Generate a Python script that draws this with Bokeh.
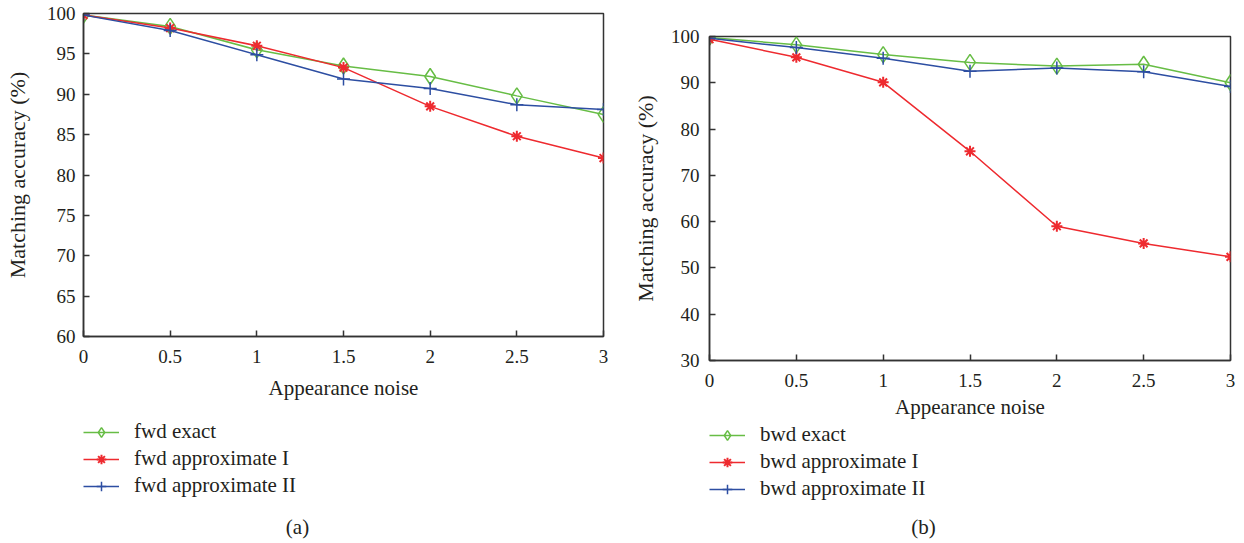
from bokeh.plotting import figure
from bokeh.layouts import row, column
from bokeh.models import Range1d, Legend, LegendItem, Label, FixedTicker
from bokeh.embed import file_html
from bokeh.resources import INLINE

# ---------------- data ----------------
noise = [0, 0.5, 1, 1.5, 2, 2.5, 3]
x_tick_labels = ["0", "0.5", "1", "1.5", "2", "2.5", "3"]

fwd_exact = [99.8, 98.4, 95.5, 93.5, 92.2, 89.8, 87.5]
fwd_approx1 = [99.8, 98.2, 96.0, 93.3, 88.5, 84.8, 82.1]
fwd_approx2 = [99.8, 97.9, 94.9, 91.9, 90.7, 88.7, 88.1]

bwd_exact = [99.8, 98.2, 96.1, 94.4, 93.6, 94.0, 90.0]
bwd_approx1 = [99.4, 95.5, 90.1, 75.2, 59.0, 55.3, 52.4]
bwd_approx2 = [99.6, 97.6, 95.3, 92.5, 93.2, 92.4, 89.2]

fwd_labels = ["fwd exact", "fwd approximate I", "fwd approximate II"]
bwd_labels = ["bwd exact", "bwd approximate I", "bwd approximate II"]

left_yticks = [60, 65, 70, 75, 80, 85, 90, 95, 100]
right_yticks = [30, 40, 50, 60, 70, 80, 90, 100]

FONT = "Liberation Serif"
TXT = "#231f20"
GREEN = "#67bd45"
RED = "#ee2a2f"
BLUE = "#2d4ea2"

STYLES = [
    dict(color=GREEN, marker="diamond", size=16, lw=1.5),
    dict(color=RED, marker="asterisk", size=11, lw=2),
    dict(color=BLUE, marker="cross", size=13, lw=1.5),
]


def add_series(p, xs, ys, st, size=None, visible=True):
    ln = p.line(xs, ys, line_color=st["color"], line_width=1.5, visible=visible)
    sc = p.scatter(xs, ys, marker=st["marker"], size=size or st["size"],
                   fill_color=None, line_color=st["color"],
                   line_width=st["lw"], visible=visible)
    return ln, sc


def make_plot(series, yr, yticks, fw, fh, bl, br, bt, bb,
              ylab_standoff, ytick_standoff, xlab_standoff):
    p = figure(frame_width=fw, frame_height=fh,
               x_range=Range1d(0, 3), y_range=Range1d(*yr),
               output_backend="svg", toolbar_location=None,
               min_border_left=bl, min_border_right=br,
               min_border_top=bt, min_border_bottom=bb)
    p.xgrid.visible = False
    p.ygrid.visible = False
    p.outline_line_color = "#333333"
    p.outline_line_width = 1.5
    p.background_fill_color = "white"
    p.border_fill_color = "white"

    for ax in (p.xaxis[0], p.yaxis[0]):
        ax.major_tick_in = 6
        ax.major_tick_out = 0
        ax.minor_tick_line_color = None
        ax.axis_line_color = "#333333"
        ax.axis_line_width = 1.5
        ax.major_tick_line_color = "#333333"
        ax.major_tick_line_width = 1.5
        ax.major_label_text_font = FONT
        ax.major_label_text_font_size = "19px"
        ax.major_label_text_color = TXT
        ax.axis_label_text_font = FONT
        ax.axis_label_text_font_style = "normal"
        ax.axis_label_text_color = TXT

    p.xaxis.ticker = FixedTicker(ticks=noise)
    p.xaxis.major_label_overrides = {t: s for t, s in zip(noise, x_tick_labels)}
    p.xaxis.major_label_standoff = 13
    p.xaxis.axis_label = "Appearance noise"
    p.xaxis.axis_label_text_font_size = "21px"
    p.xaxis.axis_label_standoff = xlab_standoff
    p.yaxis.ticker = FixedTicker(ticks=yticks)
    p.yaxis.major_label_overrides = {t: str(t) for t in yticks}
    p.yaxis.major_label_standoff = ytick_standoff
    p.yaxis.axis_label = "Matching accuracy (%)"
    p.yaxis.axis_label_text_font_size = "22px"
    p.yaxis.axis_label_standoff = ylab_standoff

    for ys, st in zip(series, STYLES):
        add_series(p, noise, ys, st)
    return p


def make_key(series, labels, caption, fw, bl, br, h, leg_y, cap_x, cap_y):
    q = figure(frame_width=fw, frame_height=h,
               x_range=Range1d(0, fw), y_range=Range1d(0, h),
               x_axis_type=None, y_axis_type=None,
               output_backend="svg", toolbar_location=None,
               min_border_left=bl, min_border_right=br,
               min_border_top=0, min_border_bottom=0)
    q.outline_line_color = None
    q.background_fill_color = "white"
    q.border_fill_color = "white"
    items = []
    for ys, lab, st in zip(series, labels, STYLES):
        # hidden copies of the series: they only supply the legend keys
        ln, sc = add_series(q, noise, ys, st, size=st["size"] - 3, visible=False)
        items.append(LegendItem(label=lab, renderers=[ln, sc]))
    leg = Legend(items=items, location=(0, leg_y), orientation="vertical",
                 border_line_color=None, background_fill_alpha=0,
                 label_text_font=FONT, label_text_font_size="21px",
                 label_text_color=TXT, glyph_width=36, glyph_height=24,
                 label_standoff=15, spacing=2, padding=0, margin=0,
                 label_height=24)
    q.add_layout(leg, "center")
    q.add_layout(Label(x=cap_x, y=cap_y, text=caption, text_font=FONT,
                       text_font_size="21px", text_color=TXT,
                       text_align="center", text_baseline="middle"))
    return q


fwd = (fwd_exact, fwd_approx1, fwd_approx2)
bwd = (bwd_exact, bwd_approx1, bwd_approx2)

# left panel: frame 83..603 x 13..336
pa = make_plot(fwd, (60, 100), left_yticks, 520, 323, 83, 24, 13, 75, 14, 8, 10)
ka = make_key(fwd, fwd_labels, "(a)", 520, 83, 24, 130, 43, 214, 15)

# right panel: frame 709..1230 x 36..360
pb = make_plot(bwd, (30, 100), right_yticks, 521, 324, 82, 12, 36, 62, 10, 10, 5)
kb = make_key(bwd, bwd_labels, "(b)", 521, 82, 12, 119, 40, 214, 15)

layout = row(column(pa, ka, spacing=0), column(pb, kb, spacing=0), spacing=0)
open("out.html", "w").write(file_html(layout, INLINE))
